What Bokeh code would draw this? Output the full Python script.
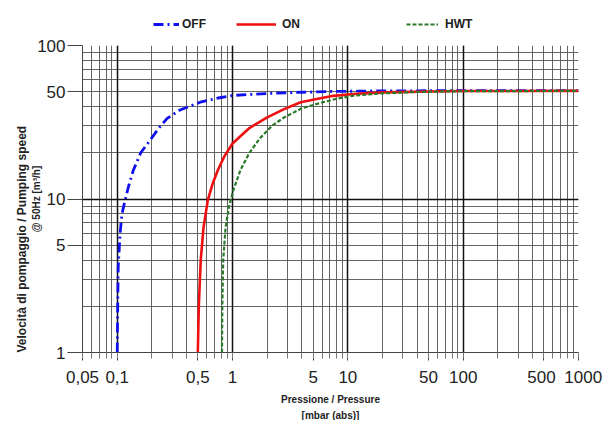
from bokeh.plotting import figure
from bokeh.models import FixedTicker, Grid, Legend, LegendItem, Title
from bokeh.layouts import column
from bokeh.embed import file_html
from bokeh.resources import INLINE

# ---- data ----
off_p = [0.1, 0.101, 0.102, 0.106, 0.11, 0.117, 0.125, 0.138, 0.16, 0.193, 0.23, 0.271, 0.35,
         0.524, 0.75, 1.02, 2.0, 4.0, 7.4, 20, 100, 1000]
off_s = [1, 2.0, 3.6, 6.0, 8.0, 9.8, 12, 15.4, 20, 24.2, 29, 33.5, 38,
         42.7, 45.5, 47.3, 48.7, 49.6, 50.2, 50.6, 50.8, 50.8]

on_p = [0.5, 0.51, 0.53, 0.56, 0.61, 0.67, 0.745, 0.85, 1.0, 1.4, 2.0, 2.8, 3.9,
        5.5, 7.5, 12, 20.4, 50, 100, 1000]
on_s = [1, 2.0, 4.0, 6.5, 9.8, 12.5, 15.4, 19, 23, 29, 34, 38.5, 42.7,
        45, 47, 48.5, 49.5, 50.2, 50.5, 50.6]

hwt_p = [0.81, 0.815, 0.83, 0.87, 0.93, 1.02, 1.17, 1.4, 1.74, 2.2, 2.8, 4.0, 5.6,
         8, 11, 20, 40, 100, 1000]
hwt_s = [1, 2.0, 4.0, 6.5, 8.9, 11.5, 15.4, 20, 25, 30, 34, 39, 42,
         45, 47, 48.8, 49.8, 50.4, 50.6]

series_names = ["OFF", "ON", "HWT"]

x_ticks = [0.05, 0.1, 0.5, 1, 5, 10, 50, 100, 500, 1000]
x_labels = ["0,05", "0,1", "0,5", "1", "5", "10", "50", "100", "500\u00a0", "\u00a0\u00a01000"]
y_ticks = [1, 5, 10, 50, 100]
y_labels = ["1", "5", "10", "50", "100"]

x_decades = [0.1, 1, 10, 100, 1000]
y_decades = [1, 10, 100]
x_minor = [m * 10.0 ** e for e in range(-2, 3) for m in range(1, 10) if 0.05 <= m * 10.0 ** e <= 1000]
x_minor.append(1000)
y_minor = [m * 10.0 ** e for e in range(0, 2) for m in range(1, 10)] + [100]

FONT = "Liberation Sans"
STYLES = [dict(line_color="#1010ee", line_width=2.8, line_dash="10 4 2 4"),
          dict(line_color="#ee1010", line_width=2.6),
          dict(line_color="#2a7a2a", line_width=2.2, line_dash="4 2")]

p = figure(width=610, height=386, x_axis_type="log", y_axis_type="log",
           x_range=(0.05, 1000), y_range=(1, 100),
           output_backend="svg", toolbar_location=None,
           min_border_left=82, min_border_right=32, min_border_top=11, min_border_bottom=67)
p.outline_line_color = None

# grids
p.xgrid.ticker = FixedTicker(ticks=x_minor)
p.ygrid.ticker = FixedTicker(ticks=y_minor)
for g in (p.xgrid, p.ygrid):
    g.grid_line_color = "#555555"
    g.grid_line_width = 0.9
p.add_layout(Grid(dimension=0, ticker=FixedTicker(ticks=x_decades), grid_line_color="#111111", grid_line_width=1.5))
p.add_layout(Grid(dimension=1, ticker=FixedTicker(ticks=y_decades), grid_line_color="#111111", grid_line_width=1.5))

# axes
xa = p.xaxis[0]
xa.ticker = FixedTicker(ticks=x_ticks, minor_ticks=x_minor)
xa.major_label_overrides = dict(zip(x_ticks, x_labels))
xa.major_tick_out = 8
xa.major_tick_in = 0
xa.minor_tick_out = 6
xa.minor_tick_in = 0
xa.major_label_standoff = 7
xa.axis_label = "Pressione / Pressure"
xa.axis_label_text_font = FONT
xa.axis_label_text_font_size = "10px"
xa.axis_label_text_font_style = "bold"
xa.axis_label_standoff = 4

ya = p.yaxis[0]
ya.ticker = FixedTicker(ticks=y_ticks, minor_ticks=[])
ya.major_label_overrides = dict(zip(y_ticks, y_labels))
ya.major_tick_out = 15
ya.major_tick_in = 0
ya.minor_tick_out = 0
ya.minor_tick_in = 0
ya.major_label_standoff = 2
ya.axis_label = "@ 50Hz [m³/h]"
ya.axis_label_text_font = FONT
ya.axis_label_text_font_size = "10px"
ya.axis_label_text_font_style = "bold"
ya.axis_label_standoff = -8

for ax in (xa, ya):
    ax.axis_line_color = "#444444"
    ax.major_tick_line_color = "#444444"
    ax.minor_tick_line_color = "#777777"
    ax.major_label_text_font = FONT
    ax.major_label_text_font_size = "17px"
    ax.major_label_text_color = "#222222"
    ax.axis_label_text_color = "#222222"

p.add_layout(Title(text="[mbar (abs)]", align="center", text_font=FONT, text_font_size="10px",
                   text_font_style="bold", text_color="#222222", standoff=0), "below")
p.add_layout(Title(text="Velocità di pompaggio / Pumping speed", align="left", text_font=FONT,
                   text_font_size="12px", text_font_style="bold", text_color="#222222", standoff=0), "left")

# curves
for xs, ys, st in zip([off_p, on_p, hwt_p], [off_s, on_s, hwt_s], STYLES):
    p.line(xs, ys, **st)

# legend strip above the chart (its lines lie outside its visible range; only legend keys show)
leg = figure(width=610, height=34, x_range=(0.05, 1000), y_range=(-10, -5), x_axis_type="log",
             x_axis_location=None, y_axis_location=None,
             output_backend="svg", toolbar_location=None,
             min_border_left=82, min_border_right=32, min_border_top=0, min_border_bottom=0)
leg.grid.visible = False
leg.outline_line_color = None
leg_pos = [(71, 3), (154, 3), (324, 3)]
leg_glyph_w = [26, 40, 32]
leg_standoff = [3, 6, 7]
for name, st, xs, ys, loc, gw, so in zip(series_names, STYLES, [off_p, on_p, hwt_p],
                                         [off_s, on_s, hwt_s], leg_pos, leg_glyph_w, leg_standoff):
    r = leg.line(xs, ys, **st)
    leg.add_layout(Legend(items=[LegendItem(label=name, renderers=[r])], location=loc,
                          label_text_font=FONT, label_text_font_size="12px",
                          label_text_font_style="bold", label_text_color="#222222",
                          glyph_width=gw, glyph_height=12, label_standoff=so,
                          padding=2, margin=0, border_line_color=None,
                          background_fill_alpha=0))

open("out.html", "w").write(file_html(column(leg, p), INLINE))
